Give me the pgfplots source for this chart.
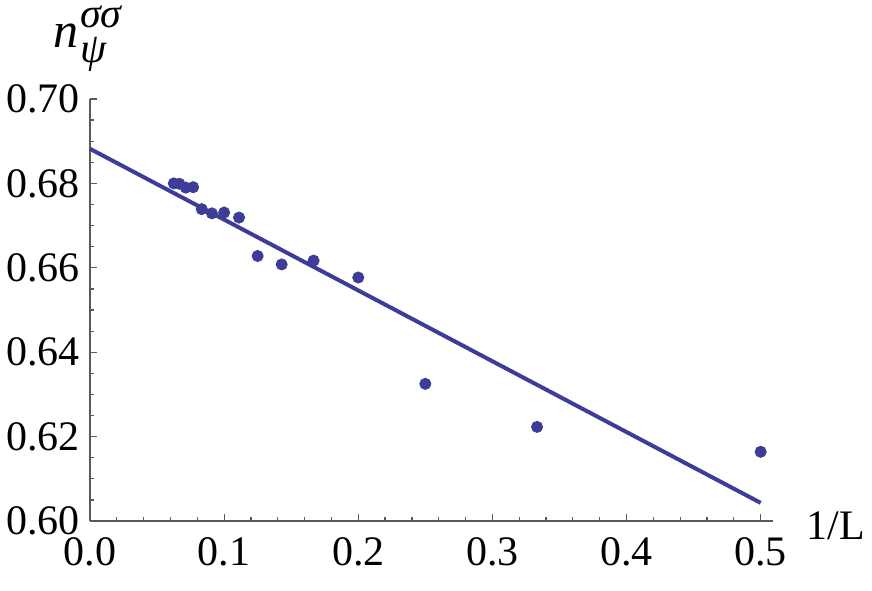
\documentclass[border=0pt]{standalone}
\usepackage{amsmath}
\usepackage{fontspec}
\setmainfont{Liberation Serif}
\usepackage{pgfplots}
\pgfplotsset{compat=1.18}

\definecolor{mblue}{RGB}{61,61,153}
\definecolor{axgray}{RGB}{90,90,90}

\begin{document}
\begin{tikzpicture}
% page = 872x590 px at 0.5pt per px, axis origin at (90,521) px
\useasboundingbox (-45pt,-34.5pt) rectangle (391pt,260.5pt);
\begin{axis}[
    scale only axis,
    width=341.5pt, height=211pt,
    xmin=0, xmax=0.5092, ymin=0.60, ymax=0.70,
    axis lines*=left,
    axis line style={axgray, line width=0.6pt},
    every tick/.style={axgray, line width=0.6pt},
    major tick length=3.5pt, minor tick length=2pt,
    xtick={0,0.1,0.2,0.3,0.4,0.5},
    ytick={0.60,0.62,0.64,0.66,0.68,0.70},
    minor x tick num=4, minor y tick num=3,
    tick align=inside,
    font=\fontsize{21}{25}\selectfont,
    /pgf/number format/assume math mode=true,
    x tick label style={/pgf/number format/fixed, /pgf/number format/zerofill, /pgf/number format/precision=1, yshift=-4.5pt},
    y tick label style={/pgf/number format/fixed, /pgf/number format/zerofill, /pgf/number format/precision=2, xshift=-1.5pt},
    xlabel={1/L},
    xlabel style={at={(rel axis cs:1.092,-0.012)}, anchor=center},
    ylabel={\fontsize{25}{28}\selectfont\textit{n}\kern1pt$^{\raisebox{1pt}{\fontsize{21}{21}\selectfont\textit{σσ}}}_{\raisebox{-1pt}{\fontsize{21}{21}\selectfont\textit{ψ}}}$},
    ylabel style={at={(rel axis cs:-0.002,1.143)}, anchor=center, rotate=-90, inner sep=0pt},
    clip=false,
]
\addplot[only marks, mark=*, mark size=2.8pt, mblue] coordinates {
    (0.5, 0.6164) (0.3333, 0.6223) (0.25, 0.6325) (0.2, 0.6577)
    (0.1667, 0.6617) (0.1429, 0.6608) (0.125, 0.6628) (0.1111, 0.6719)
    (0.1, 0.6731) (0.0909, 0.6729) (0.0833, 0.6739) (0.0769, 0.6791)
    (0.0714, 0.6790) (0.0667, 0.6799) (0.0625, 0.6800)
};
\addplot[mblue, line width=2pt] coordinates {(0, 0.6882) (0.5, 0.6043)};
\end{axis}
\end{tikzpicture}
\end{document}
